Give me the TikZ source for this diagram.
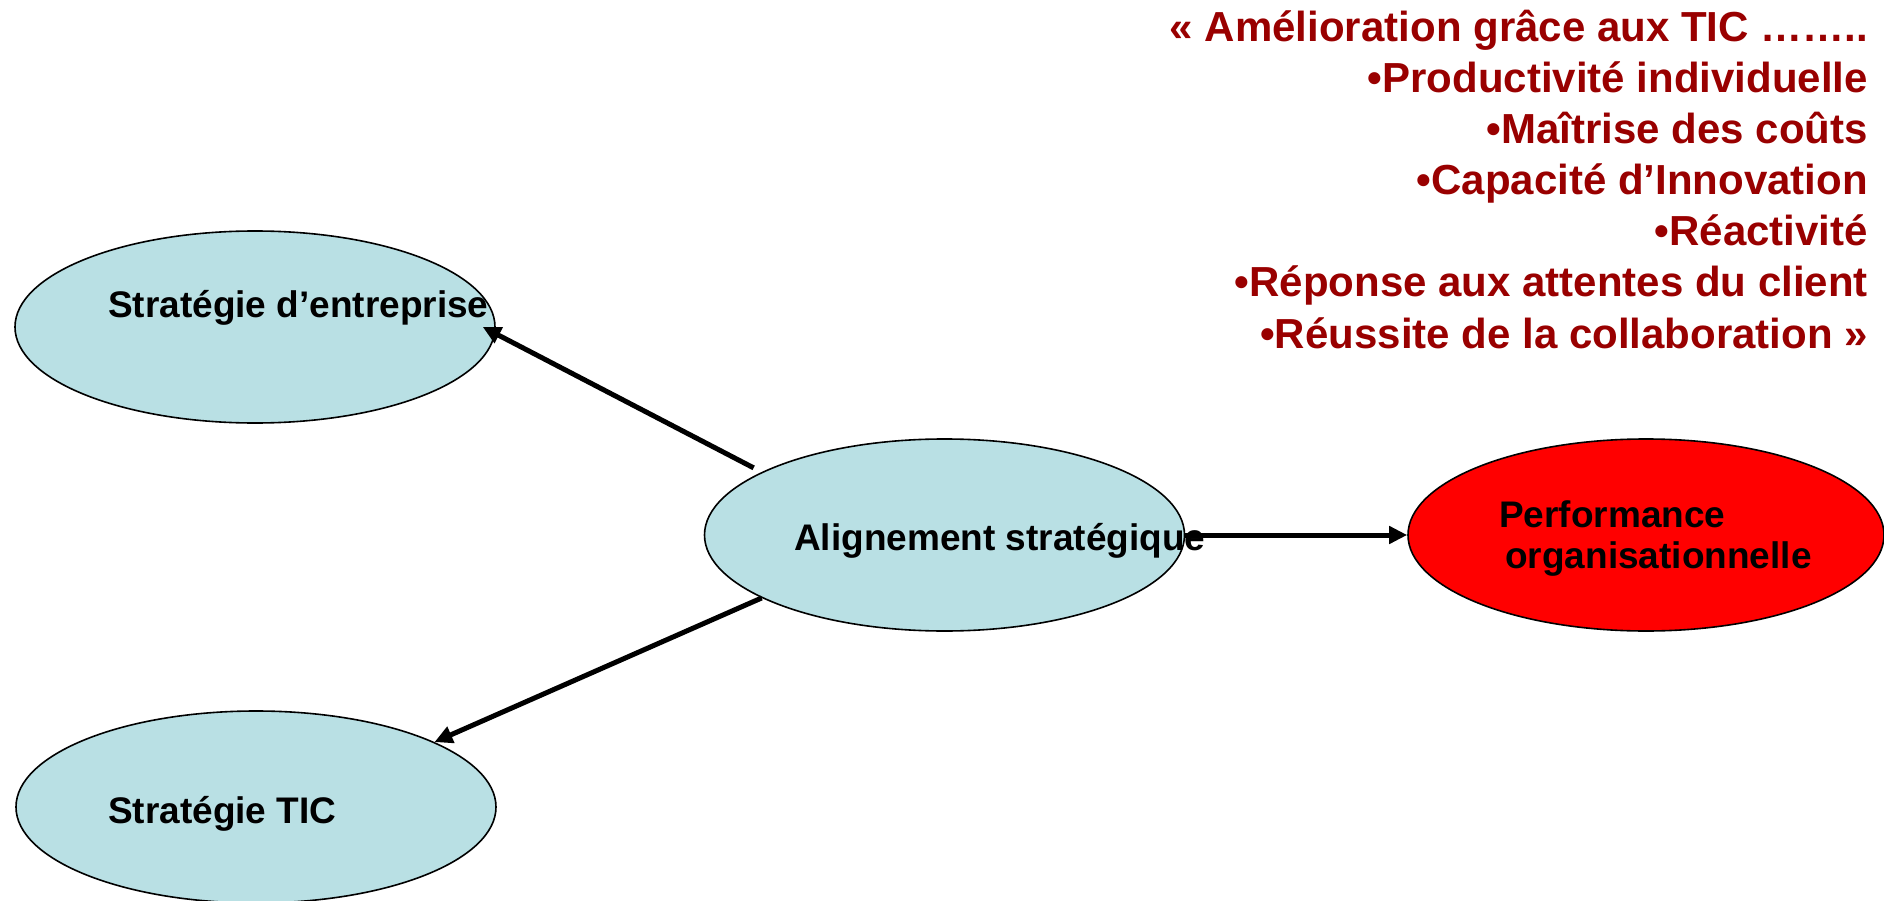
\documentclass[tikz,border=0pt]{standalone}
\usepackage{fontspec}
\setmainfont{Liberation Sans}
\usetikzlibrary{shapes.geometric,arrows.meta}
\definecolor{ellfill}{RGB}{185,224,228}
\definecolor{darkred}{RGB}{153,0,0}
\begin{document}
\begin{tikzpicture}[x=1pt,y=-1pt,
  ell/.style={ellipse, draw=black, line width=1.6pt, fill=ellfill, minimum width=480pt, minimum height=192pt, inner sep=0pt},
  lbl/.style={anchor=base west, inner sep=0pt, font=\fontsize{37}{44}\selectfont\bfseries},
  redtxt/.style={anchor=base east, inner sep=0pt, text=darkred, font=\fontsize{42}{51}\selectfont\bfseries},
  conn/.style={line width=5pt, -{Triangle[length=18pt,width=17pt]}}]
\useasboundingbox (0,0) rectangle (1884,901);
% ellipses
\node[ell] (ent) at (255,327) {};
\node[ell] (tic) at (256,807) {};
\node[ell] (al) at (944.5,535) {};
\node[ell, fill=red, minimum width=476pt] (perf) at (1646,535) {};
% connectors
\draw[conn, shorten <=9pt] (al.161.3) -- ([xshift=-13pt]ent.east);
\draw[conn] (al.199.2) -- (tic.20.2);
\draw[conn] (al.east) -- (perf.west);
% labels
\node[lbl] (tent) at (108,317) {Stratégie d’entreprise};
\node[lbl] (ttic) at (108,823) {Stratégie TIC};
\node[lbl] (tal) at (794,550) {Alignement stratégique};
\node[lbl] (tperf1) at (1499,527) {Performance};
\node[lbl] (tperf2) at (1505,568) {organisationnelle};
% red list
\foreach \t [count=\i] in {{« Amélioration grâce aux TIC ……..},{•Productivité individuelle},{•Maîtrise des coûts},{•Capacité d’Innovation},{•Réactivité},{•Réponse aux attentes du client},{•Réussite de la collaboration »}}
  \node[redtxt] (r\i) at (1868,{42+51*(\i-1)}) {\t};
\end{tikzpicture}
\end{document}
